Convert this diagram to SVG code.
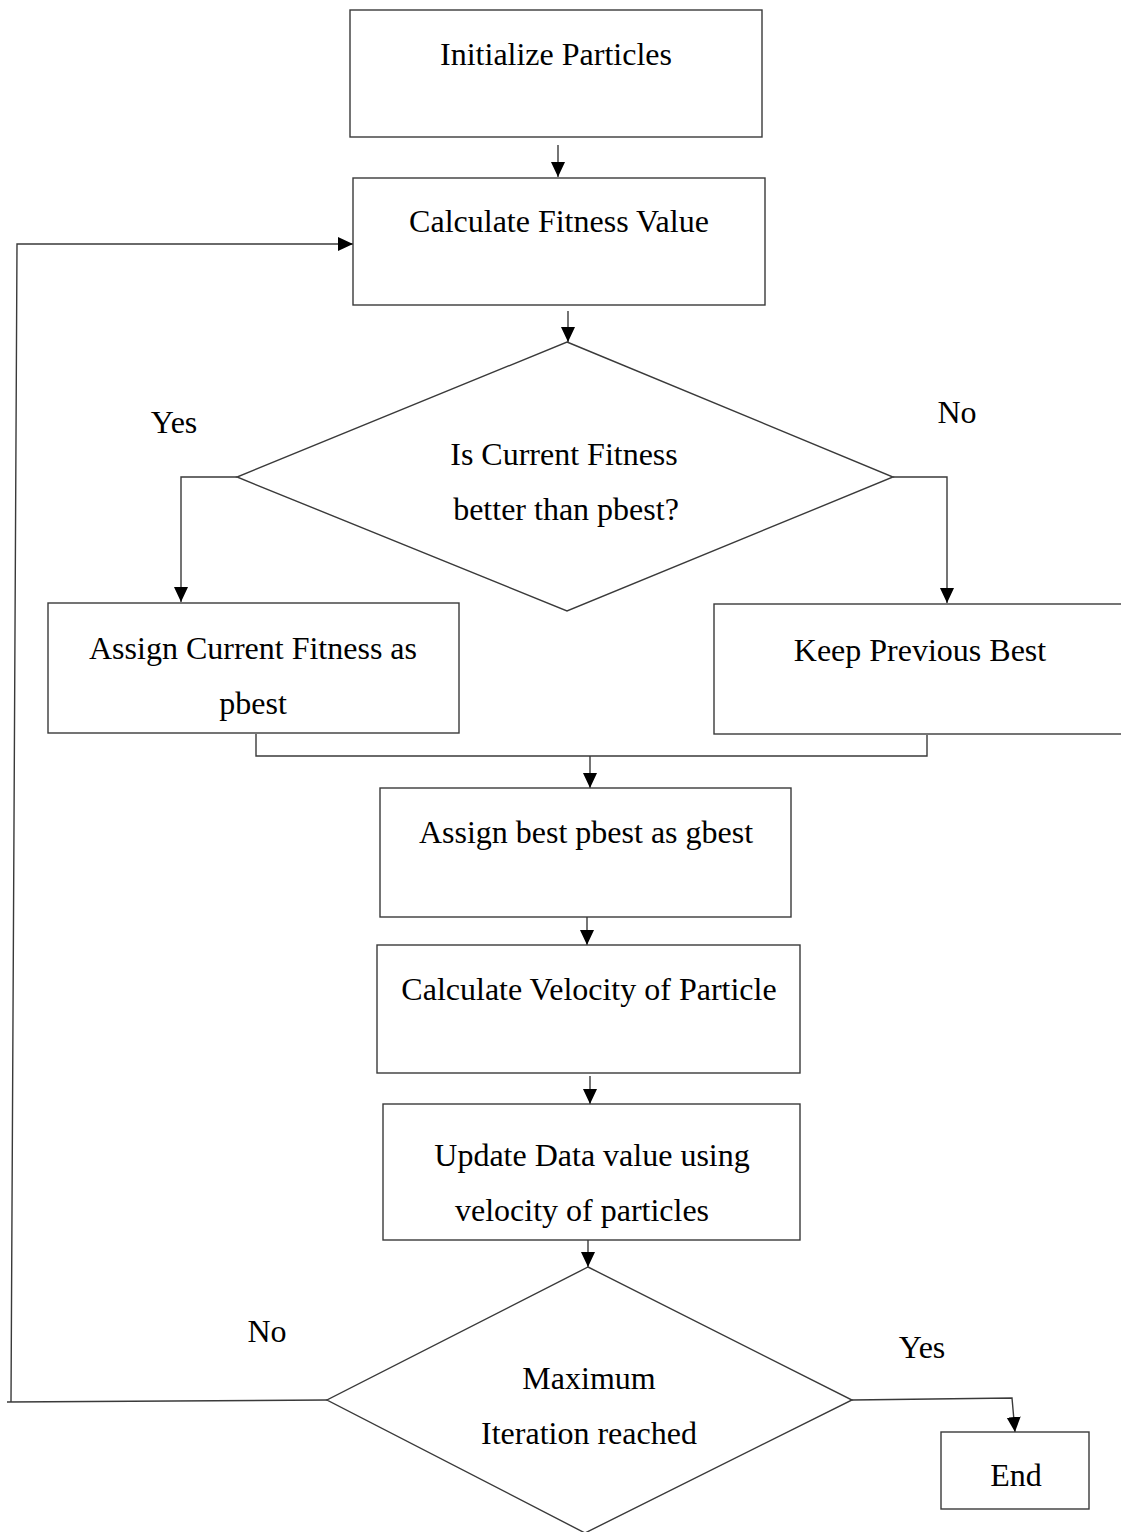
<svg xmlns="http://www.w3.org/2000/svg" width="1121" height="1532" viewBox="0 0 1121 1532">
<style>
.box{fill:#fff;stroke:#3a3a3a;stroke-width:1.4}
.ln{fill:none;stroke:#3a3a3a;stroke-width:1.4}
.ar{marker-end:url(#ah)}
text{font-family:"Liberation Serif","Times New Roman",serif;font-size:32px;fill:#000;text-anchor:middle}
</style>
<defs>
<marker id="ah" markerUnits="userSpaceOnUse" markerWidth="16" markerHeight="16" refX="15" refY="7" orient="auto">
<path d="M0,0 L15,7 L0,14 Z" fill="#000"/>
</marker>
</defs>
<rect width="1121" height="1532" fill="#fff"/>
<g id="connectors">
<line class="ln ar" x1="558" y1="145" x2="558" y2="177"/>
<polyline class="ln ar" points="11,1402 17,244 353,244"/>
<line class="ln" x1="7" y1="1402" x2="327" y2="1400"/>
<line class="ln ar" x1="568" y1="311" x2="568" y2="342"/>
<polyline class="ln ar" points="237,477 181,477 181,602"/>
<polyline class="ln ar" points="893,477 947,477 947,603"/>
<polyline class="ln" points="256,734 256,756 927,756 927,735"/>
<line class="ln ar" x1="590" y1="756" x2="590" y2="788"/>
<line class="ln ar" x1="587" y1="917" x2="587" y2="945"/>
<line class="ln ar" x1="590" y1="1076" x2="590" y2="1104"/>
<line class="ln ar" x1="588" y1="1240" x2="588" y2="1267"/>
<polyline class="ln ar" points="852,1400 1012,1398 1015,1432"/>
</g>
<g id="n1"><rect class="box" x="350" y="10" width="412" height="127"/><text x="556" y="65">Initialize Particles</text></g>
<g id="n2"><rect class="box" x="353" y="178" width="412" height="127"/><text x="559" y="232">Calculate Fitness Value</text></g>
<g id="d1"><polygon class="box" points="567,342 893,477 567,611 237,477"/><text x="564" y="465">Is Current Fitness</text><text x="566" y="520">better than pbest?</text></g>
<g id="lbl-yes1"><text x="174" y="433">Yes</text></g>
<g id="lbl-no1"><text x="957" y="423">No</text></g>
<g id="n3"><rect class="box" x="48" y="603" width="411" height="130"/><text x="253" y="659">Assign Current Fitness as</text><text x="253" y="714">pbest</text></g>
<g id="n4"><rect class="box" x="714" y="604" width="420" height="130"/><text x="920" y="661">Keep Previous Best</text></g>
<g id="n5"><rect class="box" x="380" y="788" width="411" height="129"/><text x="586" y="843">Assign best pbest as gbest</text></g>
<g id="n6"><rect class="box" x="377" y="945" width="423" height="128"/><text x="589" y="1000">Calculate Velocity of Particle</text></g>
<g id="n7"><rect class="box" x="383" y="1104" width="417" height="136"/><text x="592" y="1166">Update Data value using</text><text x="582" y="1221">velocity of particles</text></g>
<g id="d2"><polygon class="box" points="588,1267 852,1400 585,1533 327,1400"/><text x="589" y="1389">Maximum</text><text x="589" y="1444">Iteration reached</text></g>
<g id="lbl-no2"><text x="267" y="1342">No</text></g>
<g id="lbl-yes2"><text x="922" y="1358">Yes</text></g>
<g id="n8"><rect class="box" x="941" y="1432" width="148" height="77"/><text x="1016" y="1486">End</text></g>
</svg>
